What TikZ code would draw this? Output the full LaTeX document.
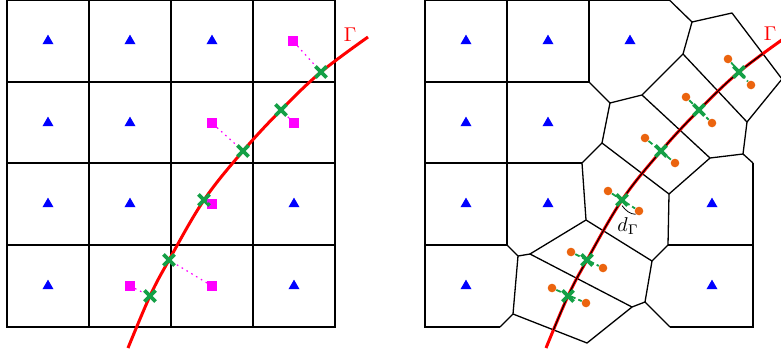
\documentclass[tikz,border=0pt]{standalone}
\usetikzlibrary{shapes.geometric,shapes.misc}
\definecolor{mgreen}{RGB}{20,160,70}
\definecolor{morange}{RGB}{235,100,15}
\definecolor{mmag}{RGB}{255,0,255}
\begin{document}
\begin{tikzpicture}[x=0.5pt,y=-0.5pt,
 gridline/.style={line width=0.8pt, black},
 vedge/.style={line width=0.65pt, black, line join=round},
 tri/.style={regular polygon, regular polygon sides=3, fill=blue, inner sep=0pt, minimum size=6.4pt},
 sq/.style={rectangle, fill=mmag, inner sep=0pt, minimum size=4.6pt},
 cx/.style={cross out, draw=mgreen, line width=1.8pt, inner sep=0pt, minimum size=3.8pt},
 odot/.style={circle, fill=morange, inner sep=0pt, minimum size=4.3pt},
 mdot/.style={mmag, line width=0.6pt, dash pattern=on 0.8pt off 2pt},
 gdash/.style={mgreen, line width=0.9pt, dash pattern=on 2.5pt off 1.5pt},
 gamma/.style={red, line width=1.5pt},
]
\useasboundingbox (0,0) rectangle (781,355);
% ---------------- left panel grid
\draw[gridline] (7,0.6) rectangle (335,327);
\foreach \x in {89,171,253} \draw[gridline] (\x,0.6) -- (\x,327);
\foreach \y in {82,163,245} \draw[gridline] (7,\y) -- (335,\y);
% triangles left
\foreach \x/\y [count=\i] in {48/41,130/41,212/41,48/123,130/123,48/204,130/204,294/204,48/286,294/286}
  \node[tri] (lt\i) at (\x,\y) {};
% curve left
\draw[gamma] plot[smooth, tension=0.6] coordinates {(128,348) (150,296) (169,260) (204,200) (243,151) (281,110) (321,72) (368,37)};
\node[red] (gl) at (350,35) {$\Gamma$};
% squares left
\node[sq] (s1) at (293,41) {};
\node[sq] (s2) at (294,123) {};
\node[sq] (s3) at (212,123) {};
\node[sq] (s4) at (212,204) {};
\node[sq] (s5) at (212,286) {};
\node[sq] (s6) at (130,286) {};
% crosses left
\node[cx] (c1) at (321,72) {};
\node[cx] (c2) at (281,110) {};
\node[cx] (c3) at (243,151) {};
\node[cx] (c4) at (204,200) {};
\node[cx] (c5) at (169,260) {};
\node[cx] (c6) at (150,296) {};
\draw[mdot] (s1) -- (c1);
\draw[mdot] (s2) -- (c2);
\draw[mdot] (s3) -- (c3);
\draw[mdot] (s4) -- (c4);
\draw[mdot] (s5) -- (c5);
\draw[mdot] (s6) -- (c6);
% ---------------- right panel grid parts
\draw[gridline] (670,0.6) -- (425,0.6) -- (425,327) -- (500,327);
\draw[gridline] (425,82) -- (589,82);
\draw[gridline] (589,0.6) -- (589,82);
\draw[gridline] (425,163) -- (582,163);
\draw[gridline] (425,245) -- (507,245);
\draw[gridline] (507,0.6) -- (507,245);
\draw[gridline] (670,327) -- (753,327) -- (753,163);
\draw[gridline] (668,245) -- (753,245);
% voronoi edges
\draw[vedge] (670,0.6) -- (692,22) -- (732,13) -- (782,79);
\draw[vedge] (692,22) -- (683,54) -- (642,95) -- (610,103) -- (589,82);
\draw[vedge] (683,54) -- (747,122) -- (782,79);
\draw[vedge] (747,122) -- (743,154) -- (753,163);
\draw[vedge] (743,154) -- (710,158) -- (642,95);
\draw[vedge] (610,103) -- (602,143) -- (582,163) -- (586,220);
\draw[vedge] (602,143) -- (669,194) -- (710,158);
\draw[vedge] (669,194) -- (668,245) -- (652,261);
\draw[vedge] (586,220) -- (652,261) -- (645,302) -- (670,327);
\draw[vedge] (645,302) -- (632,307) -- (530,254) -- (586,220);
\draw[vedge] (632,307) -- (587,343) -- (513,314) -- (518,256) -- (530,254);
\draw[vedge] (518,256) -- (507,245);
\draw[vedge] (513,314) -- (500,327);
% triangles right
\foreach \x/\y [count=\i] in {466/41,548/41,630/41,466/123,548/123,466/204,548/204,712/204,466/286,712/286}
  \node[tri] (rt\i) at (\x,\y) {};
% curve right
\draw[gamma] plot[smooth, tension=0.6] coordinates {(546,348) (568,296) (587,260) (622,200) (661,151) (699,110) (739,72) (786,37)};
\begin{scope}
\clip (400,0) -- (732,13) -- (800,103) -- (800,426) -- (587,343) -- (513,314) -- (400,270) -- cycle;
\draw[black, line width=0.55pt] plot[smooth, tension=0.6] coordinates {(546,348) (568,296) (587,260) (622,200) (661,151) (699,110) (739,72) (786,37)};
\end{scope}
\node[red] (gr) at (770,34) {$\Gamma$};
% orange dots
\node[odot] (o1a) at (728,59) {};  \node[odot] (o1b) at (751,85) {};
\node[odot] (o2a) at (686,97) {};  \node[odot] (o2b) at (712,123) {};
\node[odot] (o3a) at (645,138) {}; \node[odot] (o3b) at (675,163) {};
\node[odot] (o4a) at (608,191) {}; \node[odot] (o4b) at (639,211) {};
\node[odot] (o5a) at (571,252) {}; \node[odot] (o5b) at (603,268) {};
\node[odot] (o6a) at (552,288) {}; \node[odot] (o6b) at (586,303) {};
\draw[gdash] (o1a) -- (o1b);
\draw[gdash] (o2a) -- (o2b);
\draw[gdash] (o3a) -- (o3b);
\draw[gdash] (o4a) -- (o4b);
\draw[gdash] (o5a) -- (o5b);
\draw[gdash] (o6a) -- (o6b);
% crosses right
\node[cx] (rc1) at (739,72) {};
\node[cx] (rc2) at (699,110) {};
\node[cx] (rc3) at (661,151) {};
\node[cx] (rc4) at (622,200) {};
\node[cx] (rc5) at (587,260) {};
\node[cx] (rc6) at (568,296) {};
% distance mark
\draw[black, line width=0.4pt] (rc4.south) .. controls (626,211) and (630,214) .. (o4b.south west);
\node (dg) at (628,226) {$d_\Gamma$};
\end{tikzpicture}
\end{document}
